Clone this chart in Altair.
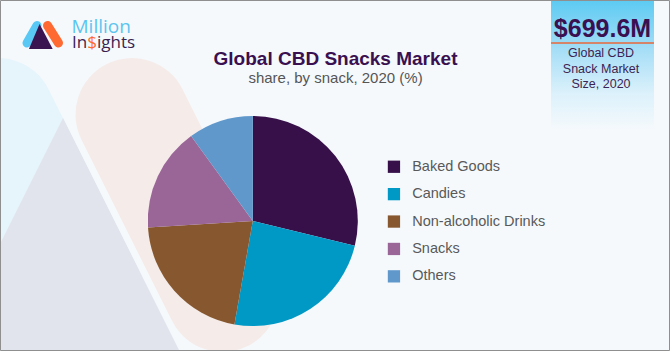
import altair as alt
import pandas as pd

# ---- data ----
categories = ["Baked Goods", "Candies", "Non-alcoholic Drinks", "Snacks", "Others"]
shares = [28.8, 24.0, 21.2, 16.0, 10.0]
colors = ["#37104a", "#0099c6", "#87582f", "#9a6698", "#6098cc"]

title_text = "Global CBD Snacks Market"
subtitle_text = "share, by snack, 2020 (%)"
box_value = "$699.6M"
box_lines = ["Global CBD", "Snack Market", "Size, 2020"]

W, H = 670, 351
BG = "#f5f9fc"
FONT = "Liberation Sans"

pie_df = pd.DataFrame({"category": categories, "share": shares, "idx": list(range(len(categories)))})
one = pd.DataFrame({"a": [0]})

def base():
    return alt.Chart(one)

# ---- background decorations ----
blue_band = base().mark_rule(color="#e6f4fb", strokeWidth=113, strokeCap="round").encode(
    x=alt.value(-2), y=alt.value(114.5), x2=alt.value(88.5), y2=alt.value(295.5))
pink_band = base().mark_rule(color="#f5ecea", strokeWidth=113, strokeCap="round").encode(
    x=alt.value(132), y=alt.value(114.5), x2=alt.value(222.5), y2=alt.value(295.5))
gray_tri = base().mark_point(shape="M0,-1L1,1L-1,1Z", size=250000, filled=True,
                             color="#e1e4ec", opacity=1, strokeWidth=0).encode(
    x=alt.value(63), y=alt.value(368))

# ---- logo ----
logo_blue = base().mark_rule(color="#5ac8f5", strokeWidth=9, strokeCap="round").encode(
    x=alt.value(27), y=alt.value(43), x2=alt.value(37), y2=alt.value(25.5))
logo_orange = base().mark_rule(color="#ff6a33", strokeWidth=9, strokeCap="round").encode(
    x=alt.value(47.5), y=alt.value(25.5), x2=alt.value(58.5), y2=alt.value(43))
logo_tri = base().mark_point(shape="M-0.1,-1L0.95,1L-0.95,1Z", size=625, filled=True,
                             color="#3a1450", opacity=1, strokeWidth=0).encode(
    x=alt.value(40.8), y=alt.value(36.5))

def txt(text, x, y, size, color, weight="normal", align="left", font=FONT):
    return base().mark_text(text=text, fontSize=size, color=color, fontWeight=weight,
                            align=align, baseline="alphabetic", font=font).encode(
        x=alt.value(x), y=alt.value(y))

logo_million = txt("Million", 71.5, 33, 19, "#5bc5f0", font="Open Sans")
logo_in = txt("In", 72, 48, 17, "#3b1f50", font="Open Sans")
logo_dollar = txt("$", 87.2, 48, 17, "#ff6a33", font="Open Sans")
logo_ights = txt("ights", 97, 48, 17, "#3b1f50", font="Open Sans")

# ---- titles ----
title = txt(title_text, 335.5, 65, 19, "#3a1050", weight="bold", align="center")
subtitle = txt(subtitle_text, 335.5, 83.3, 15, "#555555", align="center")

# ---- right box ----
box = base().mark_rect(color=alt.Gradient(
    gradient="linear",
    stops=[alt.GradientStop(color="#5ccaf2", offset=0),
           alt.GradientStop(color="#a5def7", offset=0.38),
           alt.GradientStop(color="#dcf1fb", offset=0.72),
           alt.GradientStop(color=BG, offset=1)],
    x1=0, x2=0, y1=0, y2=1)).encode(
    x=alt.value(551), x2=alt.value(654), y=alt.value(0), y2=alt.value(130))
box_rule = base().mark_rule(color="#e8663a", strokeWidth=1.5).encode(
    x=alt.value(551), x2=alt.value(654), y=alt.value(43), y2=alt.value(43))
box_val = txt(box_value, 602.5, 37, 25, "#3a1050", weight="bold", align="center")
box_t1 = txt(box_lines[0], 601, 57.3, 12.5, "#3d2352", align="center")
box_t2 = txt(box_lines[1], 601, 72.7, 12.5, "#3d2352", align="center")
box_t3 = txt(box_lines[2], 601, 87.7, 12.5, "#3d2352", align="center")

# ---- pie ----
pie = alt.Chart(pie_df).mark_arc(outerRadius=105, stroke=None).encode(
    theta=alt.Theta("share:Q", stack=True),
    order=alt.Order("idx:Q"),
    color=alt.Color("category:N",
                    scale=alt.Scale(domain=categories, range=colors),
                    legend=alt.Legend(orient="none", legendX=386.7, legendY=159.5, title=None,
                                      symbolType="square", symbolSize=151, symbolStrokeWidth=0,
                                      symbolOpacity=1, labelFontSize=14.5, labelColor="#595959",
                                      labelFont=FONT, labelOffset=11, rowPadding=12.4, padding=0)),
    x=alt.value(252.8), y=alt.value(221),
)

# ---- border ----
border = base().mark_rect(fill=None, stroke="#8f8f8f", strokeWidth=1).encode(
    x=alt.value(0.5), x2=alt.value(669.5), y=alt.value(0.5), y2=alt.value(350.5))

chart = alt.layer(
    blue_band, pink_band, gray_tri,
    logo_blue, logo_orange, logo_tri, logo_million, logo_in, logo_dollar, logo_ights,
    title, subtitle,
    box, box_rule, box_val, box_t1, box_t2, box_t3,
    pie, border,
).properties(
    width=W, height=H, padding=0, autosize=alt.AutoSizeParams(type="none")
).configure(background=BG).configure_view(strokeWidth=0)

chart.save("out.html", embed_options={"renderer": "svg", "actions": False})
